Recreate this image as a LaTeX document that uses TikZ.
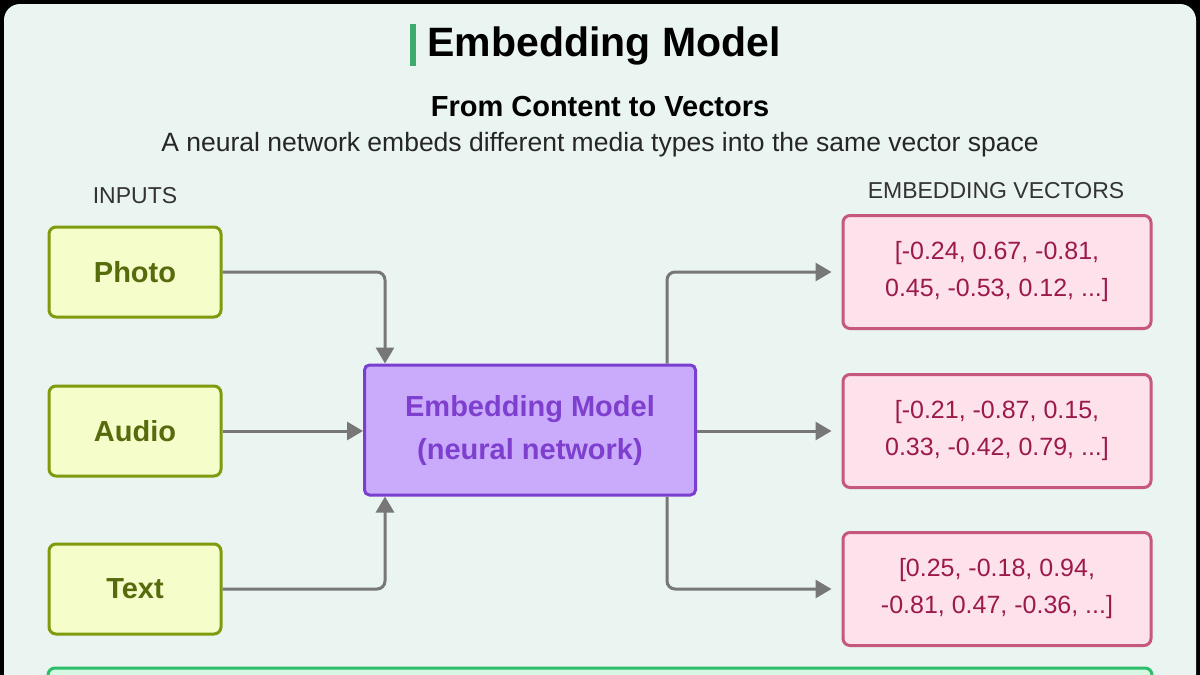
\documentclass[tikz,border=0pt]{standalone}
\usepackage{fontspec}
\setmainfont{Liberation Sans}
\usetikzlibrary{arrows.meta}
\definecolor{bgmint}{HTML}{EAF4F0}
\definecolor{inFill}{HTML}{F5FDCA}
\definecolor{inLine}{HTML}{7F9A0C}
\definecolor{inText}{HTML}{566B0C}
\definecolor{mdFill}{HTML}{C9AAFB}
\definecolor{mdLine}{HTML}{7B3FD0}
\definecolor{mdText}{HTML}{7E3FCF}
\definecolor{outFill}{HTML}{FDE1EB}
\definecolor{outLine}{HTML}{C5587B}
\definecolor{outText}{HTML}{9C1A4B}
\definecolor{noteLine}{HTML}{2DBE6C}
\definecolor{noteFill}{HTML}{D6F8E2}
\definecolor{flow}{HTML}{777777}
\tikzset{
  inbox/.style={draw=inLine, fill=inFill, line width=3pt, rounded corners=7pt,
    minimum width=172pt, minimum height=90pt,
    font=\fontsize{29}{34}\selectfont\bfseries, text=inText},
  modelbox/.style={draw=mdLine, fill=mdFill, line width=3pt, rounded corners=5pt,
    minimum width=331pt, minimum height=130pt, align=center,
    font=\fontsize{29}{43}\selectfont\bfseries, text=mdText},
  vecbox/.style={draw=outLine, fill=outFill, line width=3pt, rounded corners=7pt,
    minimum width=308pt, minimum height=113pt, align=center,
    font=\fontsize{25}{37}\selectfont, text=outText},
  flowline/.style={draw=flow, line width=3pt, rounded corners=8pt,
    -{Triangle[length=16pt,width=18pt]}},
  header/.style={font=\fontsize{23}{27}\selectfont, text=black!80}
}
\begin{document}
\begin{tikzpicture}[x=1pt,y=-1pt]
\useasboundingbox (0,0) rectangle (1200,675);
% frame
\fill[black] (0,0) rectangle (1200,675);
\fill[bgmint, rounded corners=16pt] (4,4) rectangle (1196,720);
\fill[noteFill] (48,668) rectangle (1152,680);
\draw[noteLine, line width=3pt, rounded corners=7pt] (48,668) rectangle (1152,700);

% titles
\fill[noteLine!85!black!90] (410,24) rectangle (416,66);
\node[anchor=west, font=\fontsize{41}{46}\selectfont\bfseries] (title) at (424,46) {Embedding Model};
\node[font=\fontsize{29}{33}\selectfont\bfseries] (sub) at (600,107) {From Content to Vectors};
\node[font=\fontsize{26.5}{30}\selectfont, text=black!85] (cap) at (600,145) {A neural network embeds different media types into the same vector space};
\node[header] (inhead) at (135,196) {INPUTS};
\node[header] (outhead) at (996,191) {EMBEDDING VECTORS};

% inputs
\node[inbox] (photo) at (135,272) {Photo};
\node[inbox] (audio) at (135,431) {Audio};
\node[inbox] (text) at (135,589) {Text};

% model
\node[modelbox] (model) at (530,430) {Embedding Model\\(neural network)};

% vectors
\node[vecbox] (v1) at (997,272) {[-0.24, 0.67, -0.81,\\0.45, -0.53, 0.12, ...]};
\node[vecbox] (v2) at (997,431) {[-0.21, -0.87, 0.15,\\0.33, -0.42, 0.79, ...]};
\node[vecbox] (v3) at (997,589) {[0.25, -0.18, 0.94,\\-0.81, 0.47, -0.36, ...]};

% connectors
\draw[flowline] (photo.east) -| ([xshift=-145pt]model.north);
\draw[flowline] (audio.east) -- (audio.east -| model.west);
\draw[flowline] (text.east) -| ([xshift=-145pt]model.south);
\draw[flowline] ([xshift=137pt]model.north) |- ([xshift=-10pt]v1.west);
\draw[flowline] (model.east |- v2.west) -- ([xshift=-10pt]v2.west);
\draw[flowline] ([xshift=137pt]model.south) |- ([xshift=-10pt]v3.west);
\end{tikzpicture}
\end{document}
